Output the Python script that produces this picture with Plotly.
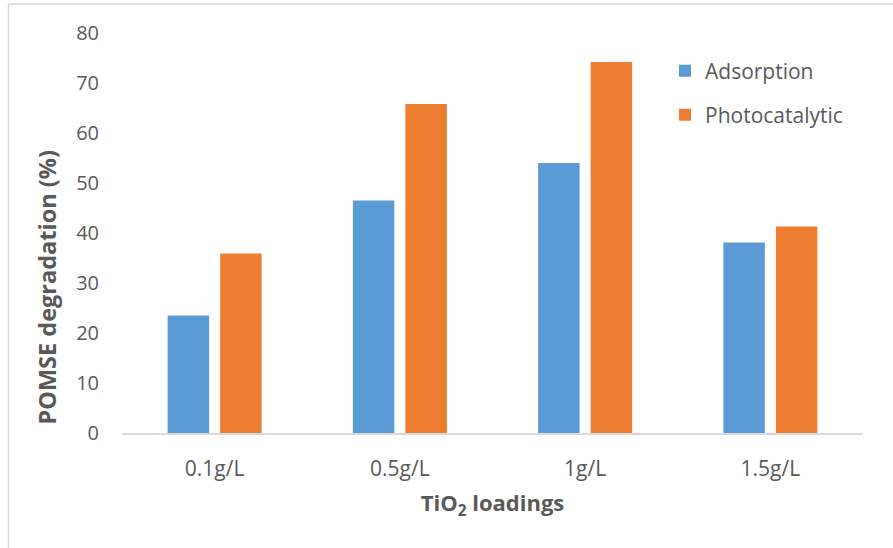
import plotly.graph_objects as go

categories = ["0.1g/L", "0.5g/L", "1g/L", "1.5g/L"]
adsorption = [23.5, 46.5, 54.0, 38.1]
photocatalytic = [35.9, 65.8, 74.2, 41.3]
y_ticks = [0, 10, 20, 30, 40, 50, 60, 70, 80]

txt = "#595959"
font_family = "Open Sans, Noto Sans, sans-serif"

fig = go.Figure()
fig.add_trace(go.Bar(x=categories, y=adsorption, name="Adsorption",
                     marker=dict(color="#5B9BD5", line=dict(width=0)), legend="legend"))
fig.add_trace(go.Bar(x=categories, y=photocatalytic, name="Photocatalytic",
                     marker=dict(color="#ED7D31", line=dict(width=0)), legend="legend2"))

L, R, T, B = 122, 30, 33, 115
W, H = 893, 548
pw, ph = W - L - R, H - T - B

def px(x):
    return (x - L) / pw

def py(y):
    return (H - B - y) / ph

fig.update_layout(
    width=W, height=H,
    margin=dict(l=L, r=R, t=T, b=B),
    plot_bgcolor="white", paper_bgcolor="white",
    font=dict(family=font_family, color=txt, size=20),
    barmode="group", bargap=0.433, bargroupgap=0.21,
    xaxis=dict(showgrid=False, showline=True, linecolor="#D9D9D9", linewidth=1.5,
               ticks="outside", ticklen=16, tickcolor="rgba(0,0,0,0)",
               tickfont=dict(size=21, color=txt),
               title=dict(text="<b>TiO<sub>2</sub> loadings</b>", font=dict(size=22, color=txt), standoff=15)),
    yaxis=dict(range=[0, 80], tickvals=y_ticks, showgrid=False, zeroline=False, showline=False,
               ticks="outside", ticklen=18, tickcolor="rgba(0,0,0,0)",
               tickfont=dict(size=20, color=txt)),
    legend=dict(x=px(665), y=py(71), xanchor="left", yanchor="middle",
                font=dict(size=21, color=txt), bgcolor="rgba(0,0,0,0)", itemwidth=30),
    legend2=dict(x=px(665), y=py(115), xanchor="left", yanchor="middle",
                 font=dict(size=21, color=txt), bgcolor="rgba(0,0,0,0)", itemwidth=30),
    showlegend=True,
)

fig.add_annotation(text="<b>POMSE degradation (%)</b>", textangle=-90,
                   xref="paper", yref="paper", x=px(46.5), y=py(288),
                   xanchor="center", yanchor="middle", showarrow=False,
                   font=dict(size=23.5, color=txt))

border = "#D9D9D9"
fig.add_shape(type="line", xref="paper", yref="paper",
              x0=px(8.5), x1=px(8.5), y0=py(4), y1=py(560),
              line=dict(color=border, width=1.5))
fig.add_shape(type="line", xref="paper", yref="paper",
              x0=px(8.5), x1=px(900), y0=py(4), y1=py(4),
              line=dict(color=border, width=1.5))

fig.write_html("out.html", config={"displayModeBar": False},
               post_script="document.body.style.margin='0';")
